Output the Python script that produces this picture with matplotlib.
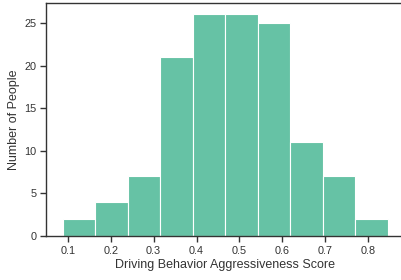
import numpy as np
import matplotlib
matplotlib.use("Agg")
import matplotlib.pyplot as plt

# histogram counts
counts = [2, 4, 7, 21, 26, 26, 25, 11, 7, 2]
bin_lo = 0.0876
bin_hi = 0.846
xticks = [0.1, 0.2, 0.3, 0.4, 0.5, 0.6, 0.7, 0.8]
yticks = [0, 5, 10, 15, 20, 25]

plt.rcParams['font.family'] = ['Liberation Sans', 'DejaVu Sans']

edges = np.linspace(bin_lo, bin_hi, len(counts) + 1)
width = edges[1] - edges[0]

fig = plt.figure(figsize=(4.02, 2.8), dpi=100)
ax = fig.add_axes([0.1154, 0.157, 0.8896, 0.831])

ax.bar(edges[:-1], counts, width=width, align='edge',
       color='#66c2a5', edgecolor='white', linewidth=0.8)

ax.set_xlim(0.0497, 0.884)
ax.set_ylim(0, 27.3)
ax.set_xticks(xticks)
ax.set_xticklabels([f"{t:.1f}" for t in xticks])
ax.set_yticks(yticks)

for s in ax.spines.values():
    s.set_color('#333333')
    s.set_linewidth(1.0)
ax.tick_params(direction='out', length=4, width=1, color='#333333',
               labelsize=7.8, labelcolor='#333333', pad=3)

ax.set_xlabel('Driving Behavior Aggressiveness Score', fontsize=9,
              color='#333333', labelpad=2)
ax.set_ylabel('Number of People', fontsize=9, color='#333333', labelpad=3)

fig.savefig('out.png', dpi=100)
